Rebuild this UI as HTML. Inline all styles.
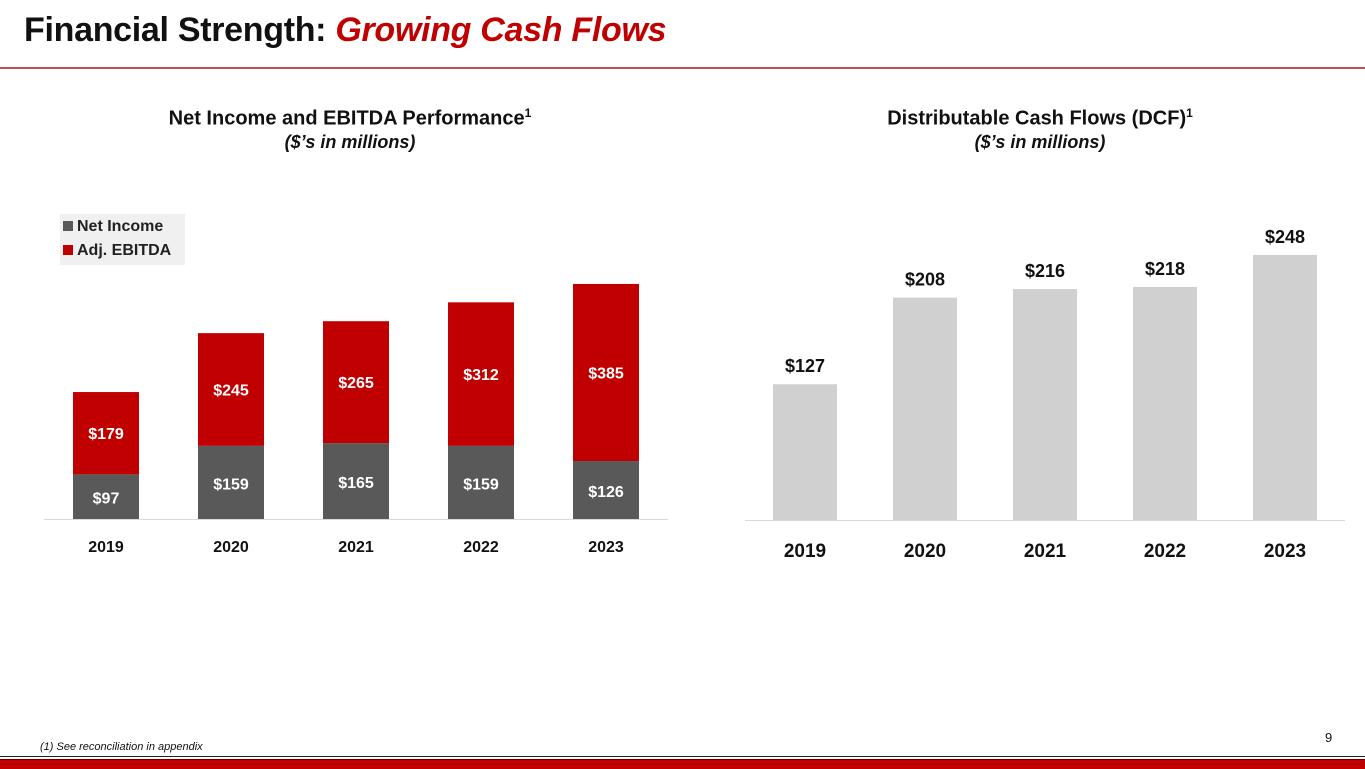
<!DOCTYPE html>
<html><head><meta charset="utf-8"><style>
body{margin:0;width:1365px;height:768px;position:relative;overflow:hidden;background:#fff;font-family:"Liberation Sans",sans-serif}
.abs{position:absolute}
</style></head><body>
<div class="abs" style="left:24px;top:11px;font-size:34px;font-weight:bold;color:#111;letter-spacing:-0.3px">Financial Strength: <span style="color:#c00000;font-style:italic">Growing Cash Flows</span></div>
<div class="abs" style="left:0;top:67px;width:1365px;height:2px;background:#c0504d"></div>
<div class="abs" style="left:100px;top:106px;width:500px;text-align:center;font-size:20px;font-weight:bold;color:#111">Net Income and EBITDA Performance<sup style="font-size:12px">1</sup><br><i style="font-size:18px">($’s in millions)</i></div>
<div class="abs" style="left:830px;top:106px;width:420px;text-align:center;font-size:20px;font-weight:bold;color:#111">Distributable Cash Flows (DCF)<sup style="font-size:12px">1</sup><br><i style="font-size:18px">($’s in millions)</i></div>
<div class="abs" style="left:60px;top:214px;width:125px;height:51px;background:#f0f0f0;font-size:16px;font-weight:bold;color:#222">
<div style="position:absolute;left:3px;top:4px"><span style="display:inline-block;width:10px;height:10px;background:#595959;margin-right:4px"></span>Net Income</div>
<div style="position:absolute;left:3px;top:28px"><span style="display:inline-block;width:10px;height:10px;background:#c00000;margin-right:4px"></span>Adj. EBITDA</div>
</div>
<svg class="abs" style="left:0;top:0" width="1365" height="768" id="svg"></svg>
<div class="abs" style="left:40px;top:741px;font-size:11px;font-style:italic;color:#111">(1) See reconciliation in appendix</div>
<div class="abs" style="left:1325px;top:730px;font-size:13px;color:#111">9</div>
<div class="abs" style="left:0;top:756px;width:1365px;height:1px;background:#222"></div>
<div class="abs" style="left:0;top:759px;width:1365px;height:9px;background:#c00000;border-top:1px solid #600"></div>
<script>
const years=["2019","2020","2021","2022","2023"];
const netIncome=[97,159,165,159,126];
const ebitda=[179,245,265,312,385];
const dcf=[127,208,216,218,248];
const NS="http://www.w3.org/2000/svg";
const svg=document.getElementById('svg');
function mk(t,a,txt){const e=document.createElementNS(NS,t);for(const k in a)e.setAttribute(k,a[k]);if(txt!==undefined)e.textContent=txt;svg.appendChild(e);return e;}
// left chart
const lBase=519,lScale=0.46,lX=i=>106+i*125,lW=66;
let ax=mk('line',{x1:44,x2:668,y1:lBase+0.5,y2:lBase+0.5,stroke:'#d9d9d9','stroke-width':1});

years.forEach((y,i)=>{
 const hn=netIncome[i]*lScale,he=ebitda[i]*lScale;
 let r=mk('rect',{x:lX(i)-lW/2,y:lBase-hn,width:lW,height:hn,fill:'#595959'});
 
 let r2=mk('rect',{x:lX(i)-lW/2,y:lBase-hn-he,width:lW,height:he,fill:'#c00000'});
 
 let t=mk('text',{x:lX(i),y:lBase-hn/2+7,'text-anchor':'middle','font-size':16,'font-weight':'bold',fill:'#fff'},'$'+netIncome[i]);
 
 let t2=mk('text',{x:lX(i),y:lBase-hn-he/2+6,'text-anchor':'middle','font-size':16,'font-weight':'bold',fill:'#fff'},'$'+ebitda[i]);
 
 let yl=mk('text',{x:lX(i),y:552,'text-anchor':'middle','font-size':16,'font-weight':'bold',fill:'#111'},y);
 
});
// right chart
const rBase=520,rScale=1.069,rX=i=>805+i*120,rW=64;
let ax2=mk('line',{x1:745,x2:1345,y1:rBase+0.5,y2:rBase+0.5,stroke:'#d9d9d9','stroke-width':1});

years.forEach((y,i)=>{
 const h=dcf[i]*rScale;
 let r=mk('rect',{x:rX(i)-rW/2,y:rBase-h,width:rW,height:h,fill:'#d0d0d0'});
 
 let t=mk('text',{x:rX(i),y:rBase-h-12,'text-anchor':'middle','font-size':18,'font-weight':'bold',fill:'#111'},'$'+dcf[i]);
 
 let yl=mk('text',{x:rX(i),y:557,'text-anchor':'middle','font-size':19,'font-weight':'bold',fill:'#111'},y);
 
});
</script>
</body></html>
